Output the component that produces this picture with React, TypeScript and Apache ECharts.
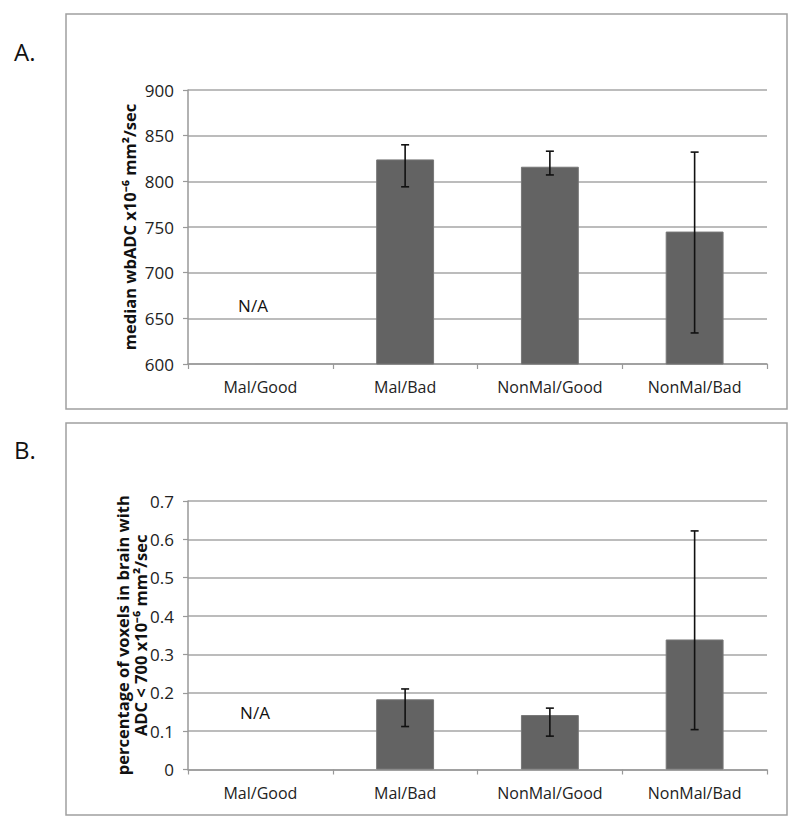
import React, { useEffect, useRef } from "react";
import * as echarts from "echarts";

const categories = ["Mal/Good", "Mal/Bad", "NonMal/Good", "NonMal/Bad"];

// Panel A: median wbADC
const adcMedian = [null, 824, 816, 745];
const adcLow = [null, 794, 807, 634];
const adcHigh = [null, 840, 833, 832];
const adcTicks = { min: 600, max: 900, interval: 50 };

// Panel B: percentage of voxels with ADC < 700
const voxelPct = [null, 0.183, 0.142, 0.339];
const voxelLow = [null, 0.112, 0.087, 0.104];
const voxelHigh = [null, 0.21, 0.16, 0.622];
const voxelTicks = { min: 0, max: 0.7, interval: 0.1 };

const FONT = "'Open Sans', 'Liberation Sans', sans-serif";
const BAR = "#636363";
const GRID = "#a6a6a6";

function errorSeries(gridIndex: number, low: (number | null)[], high: (number | null)[]) {
  const data = low
    .map((l, i) => (l == null || high[i] == null ? null : [i, l, high[i]]))
    .filter((d) => d !== null);
  return {
    type: "custom",
    xAxisIndex: gridIndex,
    yAxisIndex: gridIndex,
    data,
    encode: { x: 0, y: [1, 2] },
    z: 10,
    renderItem: (params: any, api: any) => {
      const idx = api.value(0);
      const lo = api.coord([idx, api.value(1)]);
      const hi = api.coord([idx, api.value(2)]);
      const cap = 4;
      const style = { stroke: "#111", lineWidth: 1.6 };
      return {
        type: "group",
        children: [
          { type: "line", shape: { x1: hi[0], y1: hi[1], x2: lo[0], y2: lo[1] }, style },
          { type: "line", shape: { x1: hi[0] - cap, y1: hi[1], x2: hi[0] + cap, y2: hi[1] }, style },
          { type: "line", shape: { x1: lo[0] - cap, y1: lo[1], x2: lo[0] + cap, y2: lo[1] }, style },
        ],
      };
    },
  };
}

function xAxis(gridIndex: number) {
  return {
    type: "category",
    gridIndex,
    data: categories,
    axisLine: { lineStyle: { color: "#999", width: 1.5 } },
    axisTick: { show: true, length: 5, lineStyle: { color: "#999", width: 1.2 } },
    axisLabel: { color: "#222", fontSize: 16, fontFamily: FONT, margin: 15, interval: 0 },
  };
}

function yAxis(gridIndex: number, ticks: any, name: string, nameGap: number, decimals: number) {
  return {
    type: "value",
    gridIndex,
    min: ticks.min,
    max: ticks.max,
    interval: ticks.interval,
    name,
    nameLocation: "middle",
    nameRotate: 90,
    nameGap,
    nameMoveOverlap: false,
    nameTextStyle: { color: "#111", fontSize: 16.5, fontWeight: "bold", fontFamily: FONT, lineHeight: 18 },
    axisLine: { show: true, lineStyle: { color: "#999", width: 1.5 } },
    axisTick: { show: true, length: 5, lineStyle: { color: "#999", width: 1.2 } },
    splitLine: { lineStyle: { color: GRID, width: 1.5 } },
    axisLabel: {
      color: "#222",
      fontSize: 17,
      fontFamily: FONT,
      margin: 14,
      formatter: (v: number) => (decimals ? (v === 0 ? "0" : v.toFixed(decimals)) : String(v)),
    },
  };
}

export default function App() {
  const ref = useRef<HTMLDivElement>(null);
  useEffect(() => {
    document.body.style.margin = "0";
    const chart = echarts.init(ref.current!, null, { renderer: "svg" });
    chart.setOption({
      animation: false,
      backgroundColor: "#fff",
      grid: [
        { left: 188, top: 90, width: 579, height: 274 },
        { left: 188, top: 501, width: 579, height: 268.5 },
      ],
      xAxis: [xAxis(0), xAxis(1)],
      yAxis: [
        yAxis(0, adcTicks, "median wbADC x10⁻⁶ mm²/sec", 50, 0),
        yAxis(1, voxelTicks, "percentage of voxels in brain with\nADC < 700 x10⁻⁶ mm²/sec", 39, 1),
      ],
      series: [
        {
          type: "bar",
          xAxisIndex: 0,
          yAxisIndex: 0,
          data: adcMedian,
          barWidth: "40%",
          itemStyle: { color: BAR, borderColor: "#777", borderWidth: 1 },
        },
        errorSeries(0, adcLow, adcHigh),
        {
          type: "bar",
          xAxisIndex: 1,
          yAxisIndex: 1,
          data: voxelPct,
          barWidth: "40%",
          itemStyle: { color: BAR, borderColor: "#777", borderWidth: 1 },
        },
        errorSeries(1, voxelLow, voxelHigh),
      ],
      graphic: [
        { type: "rect", shape: { x: 66, y: 14, width: 721, height: 395 }, style: { fill: "none", stroke: "#a0a0a0", lineWidth: 1.5 }, z: -1 },
        { type: "rect", shape: { x: 66, y: 423, width: 721, height: 392 }, style: { fill: "none", stroke: "#a0a0a0", lineWidth: 1.5 }, z: -1 },
        { type: "text", x: 14, y: 51, style: { text: "A.", fontSize: 24, fontFamily: FONT, fill: "#111", verticalAlign: "middle" } },
        { type: "text", x: 14, y: 449, style: { text: "B.", fontSize: 24, fontFamily: FONT, fill: "#111", verticalAlign: "middle" } },
        { type: "text", x: 253, y: 305, style: { text: "N/A", fontSize: 17, fontFamily: FONT, fill: "#111", align: "center", verticalAlign: "middle" } },
        { type: "text", x: 255, y: 712, style: { text: "N/A", fontSize: 17, fontFamily: FONT, fill: "#111", align: "center", verticalAlign: "middle" } },
      ],
    });
    return () => chart.dispose();
  }, []);
  return <div ref={ref} style={{ position: "absolute", left: 0, top: 0, width: 800, height: 832 }} />;
}
